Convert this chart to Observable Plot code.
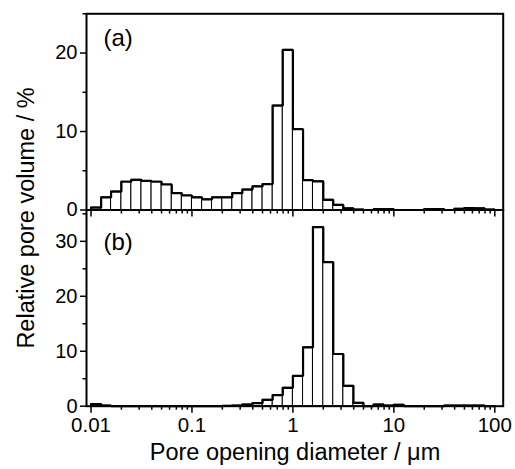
<!DOCTYPE html>
<html><head><meta charset="utf-8">
<script src="https://cdn.jsdelivr.net/npm/d3@7"></script>
<script src="https://cdn.jsdelivr.net/npm/@observablehq/plot@0.6"></script>
<style>
body{margin:0;background:#fff;}
#chart{position:relative;width:515px;height:469px;font-family:"Liberation Sans",Arial,sans-serif;color:#000;}
#chart svg{position:absolute;left:0;top:0;overflow:visible;background:transparent;}
#ylab{position:absolute;left:27px;top:218px;transform:translate(-50%,-50%) rotate(-90deg);white-space:nowrap;font-size:23.5px;line-height:1;}
#xlab{position:absolute;left:295px;top:453px;transform:translate(-50%,-50%);white-space:nowrap;font-size:23.5px;line-height:1;}
</style></head>
<body><div id="chart"><div id="ylab">Relative pore volume / %</div><div id="xlab">Pore opening diameter / μm</div></div>
<script>
// Bin edges (µm), 10 bins per decade
const binEdges = [0.01,0.0126,0.0158,0.02,0.0251,0.0316,0.0398,0.0501,0.0631,0.0794,
  0.1,0.126,0.158,0.2,0.251,0.316,0.398,0.501,0.631,0.794,
  1,1.26,1.58,2,2.51,3.16,3.98,5.01,6.31,7.94,
  10,12.6,15.8,20,25.1,31.6,39.8,50.1,63.1,79.4,100];
// Panel (a) relative pore volume (%)
const volumeA = [0.3,1.6,2.35,3.6,3.85,3.7,3.6,3.25,2.15,1.85,
  1.6,1.35,1.6,1.6,2.15,2.6,3.0,3.3,13.3,20.4,
  10.3,3.8,3.65,1.3,0.65,0.2,0.05,0,0.1,0.1,
  0,0,0,0.1,0.1,0,0.15,0.25,0.2,0.05];
// Panel (b) relative pore volume (%)
const volumeB = [0.4,0.1,0,0,0,0,0,0,0,0,
  0,0,0,0.05,0.1,0.3,0.55,1.16,2.0,3.35,
  5.5,10.7,32.6,26.2,9.5,3.7,0.6,0,0.3,0.1,
  0.25,0,0,0,0,0.1,0.1,0.1,0.1,0];
const xTickValues = [0.01,0.1,1,10,100];
const xTickLabels = ["0.01","0.1","1","10","100"];
const xMinorTicks = [0.02,0.03,0.04,0.05,0.06,0.07,0.08,0.09,
  0.2,0.3,0.4,0.5,0.6,0.7,0.8,0.9,
  2,3,4,5,6,7,8,9,
  20,30,40,50,60,70,80,90];
const yTicksA = [0,10,20], yMinorA = [5,15,25];
const yTicksB = [0,10,20,30], yMinorB = [5,15,25,35];
const xDomain = [0.00902,121.1];
const panelLabels = ["(a)","(b)"];

function rows(vals){ return vals.map((v,i)=>({x1:binEdges[i], x2:binEdges[i+1], v})); }
function outline(vals){
  const pts=[{x:binEdges[0],y:0}];
  vals.forEach((v,i)=>{pts.push({x:binEdges[i],y:v});pts.push({x:binEdges[i+1],y:v});});
  pts.push({x:binEdges[binEdges.length-1],y:0});
  return pts;
}
function panel(vals, yDomain, yMajor, yMinor, mTop, mBottom, showX, label, labelDy){
  const marks = [
    Plot.rect(rows(vals), {x1:"x1", x2:"x2", y1:()=>0, y2:"v", fill:"white", stroke:"black", strokeWidth:1}),
    Plot.line(outline(vals), {x:"x", y:"y", stroke:"black", strokeWidth:2.2, strokeLinejoin:"miter"}),
    Plot.frame({stroke:"black", strokeWidth:2}),
    Plot.axisY(yMajor, {tickSize:6, tickPadding:3, strokeWidth:1.5, fontSize:20, label:null}),
    Plot.axisY(yMinor, {tickSize:3.5, strokeWidth:1.5, tickFormat:()=>"", label:null}),
    Plot.axisX(xTickValues, {tickSize:7, tickPadding:4, strokeWidth:1.5, fontSize:20.5, label:null,
      tickFormat: showX ? ((d)=>xTickLabels[xTickValues.indexOf(d)]) : (()=>"")}),
    Plot.axisX(xMinorTicks, {tickSize:4, strokeWidth:1.5, tickFormat:()=>"", label:null}),
    Plot.text([label], {frameAnchor:"top-left", dx:17, dy:labelDy, fontSize:24, textAnchor:"start", lineAnchor:"top"})
  ];
  return Plot.plot({
    width:515, height:469,
    marginLeft:86, marginRight:12.3, marginTop:mTop, marginBottom:mBottom,
    style:{background:"transparent", fontFamily:"'Liberation Sans', Arial, sans-serif", color:"black", overflow:"visible"},
    x:{type:"log", domain:xDomain},
    y:{domain:yDomain},
    marks
  });
}
const chart = document.getElementById("chart");
chart.appendChild(panel(volumeB, [0,35.7], yTicksB, yMinorB, 209.5, 63.3, true, panelLabels[1], 23));
chart.appendChild(panel(volumeA, [0,25], yTicksA, yMinorA, 13.3, 259.5, false, panelLabels[0], 15));
</script>
</body></html>
